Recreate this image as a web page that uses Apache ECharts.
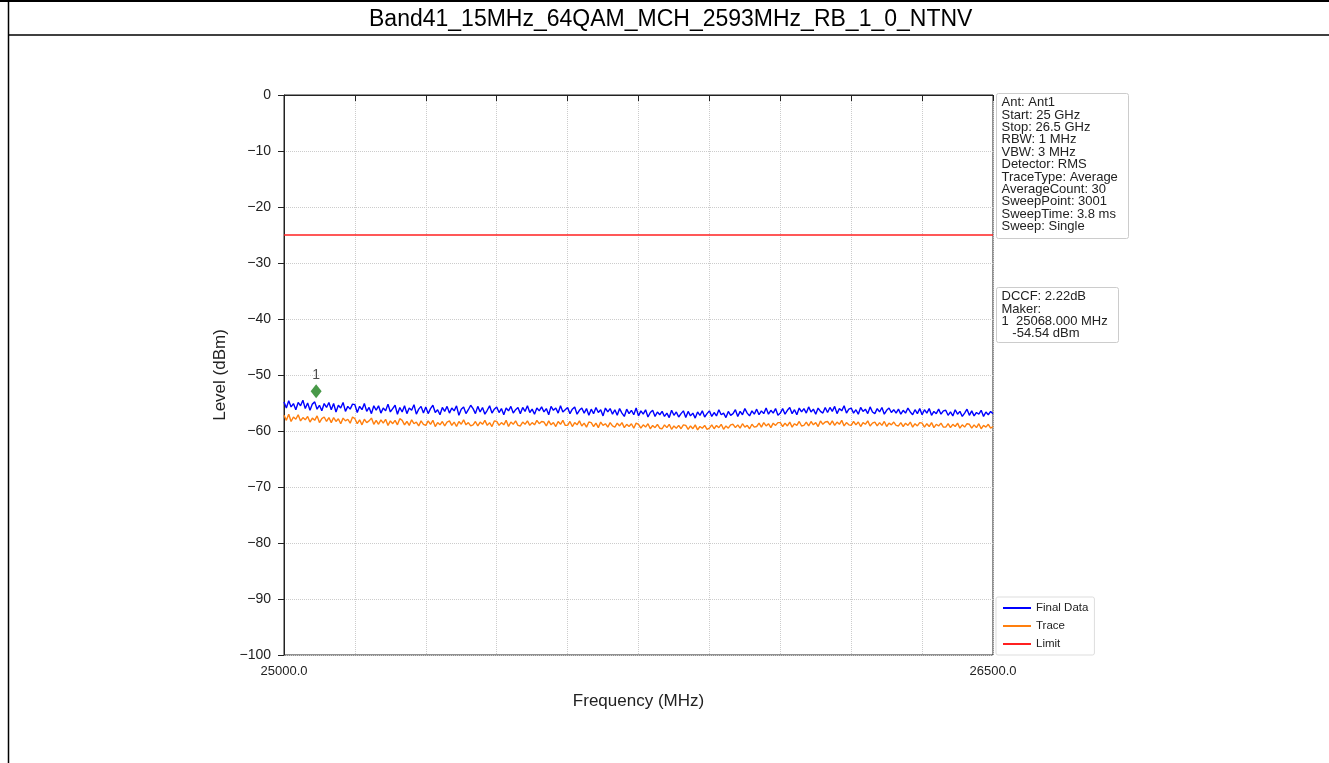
<!DOCTYPE html>
<html>
<head>
<meta charset="utf-8">
<script src="https://cdn.jsdelivr.net/npm/echarts@6/dist/echarts.min.js"></script>
<style>
  html, body { margin: 0; padding: 0; background: #fff; }
  #chart { width: 1329px; height: 763px; }
</style>
</head>
<body>
<div id="chart"></div>
<script>
// sweep: 25000 .. 26500 MHz, one point every 5 MHz
const freqStart = 25000;
const freqStep = 5;

// Final Data (dBm)
const finalData = [
  -54.8, -55.9, -54.6, -55.7, -55.1, -56.2, -54.9, -55.5, -54.5, -56.0,
  -55.0, -56.3, -55.2, -54.8, -56.1, -55.4, -56.4, -55.1, -55.8, -54.9,
  -56.2, -55.1, -56.6, -55.4, -55.9, -54.9, -56.5, -55.6, -56.1, -55.2,
  -55.3, -56.7, -55.6, -56.2, -55.1, -56.5, -55.8, -56.9, -55.5, -56.3,
  -55.5, -56.8, -55.9, -56.4, -55.2, -56.6, -56.0, -55.4, -57.0, -55.8,
  -56.6, -55.5, -56.9, -55.9, -56.3, -55.3, -57.0, -56.1, -55.6, -56.8,
  -55.7, -56.9, -56.0, -55.4, -56.7, -56.2, -57.1, -55.8, -56.5, -55.6,
  -56.8, -55.9, -56.4, -55.5, -57.2, -56.1, -55.7, -56.9, -56.2, -55.4,
  -56.0, -56.9, -55.6, -56.6, -55.8, -57.0, -56.3, -55.5, -56.8, -56.1,
  -55.7, -56.7, -56.0, -57.1, -55.9, -56.4, -55.6, -56.8, -56.2, -55.8,
  -56.9, -55.8, -56.5, -55.5, -56.7, -56.1, -57.0, -55.9, -56.4, -55.7,
  -56.6, -56.0, -57.1, -55.6, -56.3, -55.9, -56.8, -55.5, -56.6, -56.2,
  -55.8, -56.9, -56.1, -55.7, -57.0, -56.3, -55.9, -56.8, -56.0, -57.2,
  -56.1, -56.9, -55.8, -56.7, -56.2, -57.3, -55.9, -56.6, -56.0, -57.0,
  -56.2, -57.2, -56.0, -56.8, -57.4, -56.1, -56.9, -56.3, -57.1, -55.9,
  -57.3, -56.4, -57.0, -56.2, -57.5, -56.7, -56.3, -57.4, -56.6, -57.1,
  -56.5, -57.4, -56.8, -57.6, -56.3, -57.2, -56.6, -57.5, -56.9, -56.4,
  -57.6, -56.5, -57.3, -56.8, -57.7, -56.6, -57.2, -56.4, -57.5, -56.9,
  -56.4, -57.4, -56.7, -57.3, -56.2, -57.1, -56.8, -57.6, -56.5, -57.2,
  -56.9, -56.2, -57.4, -56.5, -57.1, -56.0, -56.8, -57.3, -56.4, -57.0,
  -56.1, -57.1, -56.4, -56.9, -55.9, -57.0, -56.3, -56.8, -56.0, -57.2,
  -56.8, -56.0, -57.0, -56.3, -55.8, -56.9, -56.2, -57.1, -55.9, -56.6,
  -56.0, -56.8, -55.7, -56.6, -56.1, -57.0, -55.9, -56.5, -56.8, -55.8,
  -56.7, -55.8, -56.5, -55.6, -56.9, -56.0, -56.4, -55.5, -56.8, -56.1,
  -55.9, -56.8, -56.2, -57.0, -55.8, -56.5, -56.1, -56.9, -55.7, -56.6,
  -56.9, -56.0, -56.6, -55.8, -57.0, -56.3, -55.9, -56.7, -56.2, -56.8,
  -56.1, -57.0, -56.3, -56.8, -55.9, -56.6, -57.1, -56.2, -56.9, -56.0,
  -57.1, -56.2, -56.8, -56.0, -57.2, -56.5, -56.9, -56.1, -57.0, -56.4,
  -56.3, -57.2, -56.6, -57.3, -56.2, -57.0, -56.5, -57.4, -56.8, -56.1,
  -57.2, -56.4, -57.3, -56.7, -57.0, -56.3, -57.4, -56.6, -57.1, -56.5,
  -56.9
];

// Trace (dBm)
const traceData = [
  -57.2, -58.1, -57.0, -58.3, -57.5, -57.9, -57.1, -58.2, -57.6, -58.0,
  -57.4, -58.4, -57.7, -58.1, -57.3, -58.5, -57.8, -57.5, -58.3, -57.6,
  -58.5, -57.6, -58.3, -57.8, -58.7, -57.7, -58.2, -57.9, -58.6, -57.5,
  -57.8, -58.7, -58.0, -58.9, -57.9, -58.5, -58.2, -57.7, -58.8, -58.1,
  -58.8, -58.0, -58.6, -57.9, -59.0, -58.2, -58.7, -58.1, -58.9, -57.8,
  -58.1, -58.9, -58.3, -59.0, -58.0, -58.7, -58.4, -59.1, -58.2, -58.8,
  -59.0, -58.2, -58.8, -58.1, -59.2, -58.5, -58.9, -58.3, -59.1, -58.4,
  -58.2, -59.0, -58.4, -59.2, -58.3, -58.8, -58.0, -58.9, -58.5, -59.1,
  -58.9, -58.3, -59.1, -58.4, -58.8, -58.1, -59.0, -58.5, -59.2, -58.2,
  -58.3, -59.0, -58.5, -58.9, -58.1, -59.2, -58.4, -58.8, -58.2, -59.0,
  -59.1, -58.4, -58.8, -58.2, -59.0, -58.5, -58.9, -58.1, -58.7, -58.3,
  -58.4, -59.1, -58.2, -58.9, -58.5, -59.2, -58.3, -58.8, -58.1, -59.0,
  -59.0, -58.3, -59.2, -58.5, -58.9, -58.2, -59.1, -58.6, -59.3, -58.4,
  -58.5, -59.2, -58.6, -59.4, -58.4, -59.0, -58.7, -59.3, -58.5, -59.1,
  -59.3, -58.6, -59.1, -58.5, -59.4, -58.8, -59.2, -58.7, -59.5, -58.6,
  -58.8, -59.5, -58.9, -59.3, -58.7, -59.6, -59.0, -59.4, -58.8, -59.5,
  -59.6, -58.9, -59.4, -58.8, -59.7, -59.1, -59.5, -59.0, -59.6, -58.9,
  -59.0, -59.7, -59.1, -59.6, -58.9, -59.8, -59.2, -59.5, -59.0, -59.7,
  -59.5, -58.9, -59.6, -59.0, -59.4, -58.8, -59.7, -59.1, -59.5, -58.9,
  -58.8, -59.4, -58.9, -59.5, -58.7, -59.3, -59.0, -59.6, -58.8, -59.3,
  -59.2, -58.6, -59.3, -58.5, -59.1, -58.7, -59.4, -58.6, -59.0, -58.5,
  -58.5, -59.2, -58.6, -59.1, -58.4, -59.3, -58.7, -59.0, -58.3, -59.1,
  -59.0, -58.4, -59.1, -58.3, -58.9, -58.5, -59.2, -58.2, -58.8, -58.4,
  -58.3, -58.9, -58.2, -59.0, -58.4, -58.8, -58.1, -59.1, -58.5, -58.9,
  -59.0, -58.3, -58.9, -58.4, -59.2, -58.5, -58.8, -58.2, -59.1, -58.6,
  -58.4, -59.1, -58.5, -59.0, -58.3, -59.2, -58.6, -58.9, -58.4, -59.0,
  -59.1, -58.5, -59.2, -58.6, -59.0, -58.4, -59.3, -58.7, -59.1, -58.5,
  -58.6, -59.3, -58.7, -59.2, -58.5, -59.4, -58.8, -59.1, -58.6, -59.3,
  -59.3, -58.7, -59.4, -58.8, -59.2, -58.6, -59.5, -58.9, -59.3, -58.7,
  -58.8, -59.5, -58.9, -59.4, -58.7, -59.6, -59.0, -59.3, -58.8, -59.5,
  -59.2
];

const limitFreq = [25000, 26500];
const limitLevel = [-25, -25];

// marker 1
const markerFreq = 25068;
const markerLevel = -52.9;

const infoLines = [
  'Ant: Ant1', 'Start: 25 GHz', 'Stop: 26.5 GHz', 'RBW: 1 MHz', 'VBW: 3 MHz',
  'Detector: RMS', 'TraceType: Average', 'AverageCount: 30', 'SweepPoint: 3001',
  'SweepTime: 3.8 ms', 'Sweep: Single'
];
const markerLines = ['DCCF: 2.22dB', 'Maker:', '1  25068.000 MHz', '   -54.54 dBm'];

const pair = (arr) => arr.map((v, i) => [freqStart + i * freqStep, v]);

const chart = echarts.init(document.getElementById('chart'));
const font = 'Liberation Sans, Arial, sans-serif';

chart.setOption({
  animation: false,
  backgroundColor: '#fff',
  title: {
    text: 'Band41_15MHz_64QAM_MCH_2593MHz_RB_1_0_NTNV',
    left: 364,
    top: 3,
    textStyle: { fontFamily: font, fontSize: 23, fontWeight: 'normal', color: '#000' },
  },
  grid: {
    left: 284, right: 336, top: 95, bottom: 108,
    show: true, borderColor: '#222', borderWidth: 1,
  },
  legend: {
    orient: 'vertical',
    left: 996, top: 597,
    itemWidth: 28, itemHeight: 2, itemGap: 6,
    padding: [5, 6, 5, 6],
    backgroundColor: '#fff',
    borderColor: '#ddd', borderWidth: 1, borderRadius: 2,
    textStyle: { fontFamily: font, fontSize: 11.5, color: '#222' },
    data: ['Final Data', 'Trace', 'Limit'],
  },
  xAxis: {
    type: 'value',
    min: 25000, max: 26500, interval: 150,
    name: 'Frequency (MHz)', nameLocation: 'middle', nameGap: 38,
    nameTextStyle: { fontFamily: font, fontSize: 17, color: '#222' },
    axisLine: { lineStyle: { color: '#222' } },
    axisTick: { show: true, length: 6, lineStyle: { color: '#222' } },
    axisLabel: {
      fontFamily: font, fontSize: 13, color: '#222', margin: 10,
      formatter: (v) => (v === 25000 || v === 26500 ? v.toFixed(1) : ''),
    },
    splitLine: { show: true, lineStyle: { color: '#ccc', type: 'dotted' } },
  },
  yAxis: {
    type: 'value',
    min: -100, max: 0, interval: 10,
    name: 'Level (dBm)', nameLocation: 'middle', nameGap: 52, nameRotate: 90,
    nameTextStyle: { fontFamily: font, fontSize: 17, color: '#222' },
    axisLine: { show: true, lineStyle: { color: '#222' } },
    axisTick: { show: true, length: 6, lineStyle: { color: '#222' } },
    axisLabel: {
      fontFamily: font, fontSize: 14, color: '#222', margin: 13,
      formatter: (v) => String(v).replace('-', '\u2212'),
    },
    splitLine: { show: true, lineStyle: { color: '#ccc', type: 'dotted' } },
  },
  series: [
    {
      name: 'Final Data', type: 'line', symbol: 'none',
      lineStyle: { color: '#0000ff', width: 1.4 }, itemStyle: { color: '#0000ff' },
      data: pair(finalData), z: 3,
    },
    {
      name: 'Trace', type: 'line', symbol: 'none',
      lineStyle: { color: '#ff7f0e', width: 1.4 }, itemStyle: { color: '#ff7f0e' },
      data: pair(traceData), z: 2,
    },
    {
      name: 'Limit', type: 'line', symbol: 'none',
      lineStyle: { color: '#ff2020', width: 1.5 }, itemStyle: { color: '#ff2020' },
      data: limitFreq.map((f, i) => [f, limitLevel[i]]), z: 4,
    },
    {
      name: 'Marker', type: 'scatter', symbol: 'diamond', symbolSize: [11, 14],
      itemStyle: { color: '#1a7f1a' },
      label: { show: true, position: 'top', distance: 2, formatter: '1',
        fontFamily: font, fontSize: 14, color: '#222' },
      data: [[markerFreq, markerLevel]], z: 5,
    },
  ],
  graphic: [
    // page frame
    { type: 'line', shape: { x1: 0, y1: 1, x2: 1329, y2: 1 }, style: { stroke: '#000', lineWidth: 2 } },
    { type: 'line', shape: { x1: 8.5, y1: 0, x2: 8.5, y2: 763 }, style: { stroke: '#000', lineWidth: 1.5 } },
    { type: 'line', shape: { x1: 8, y1: 35, x2: 1329, y2: 35 }, style: { stroke: '#000', lineWidth: 1.5 } },
    // info box
    {
      type: 'group', left: 996, top: 93,
      children: [
        { type: 'rect', shape: { x: 0, y: 0, width: 132, height: 145, r: 2 },
          style: { fill: '#fff', stroke: '#ccc', lineWidth: 1 } },
        { type: 'text', x: 5, y: 3,
          style: { text: infoLines.join('\n'), font: '13px ' + font, lineHeight: 12.4, fill: '#222' } },
      ],
    },
    {
      type: 'group', left: 996, top: 287,
      children: [
        { type: 'rect', shape: { x: 0, y: 0, width: 122, height: 55, r: 2 },
          style: { fill: '#fff', stroke: '#ccc', lineWidth: 1 } },
        { type: 'text', x: 5, y: 3,
          style: { text: markerLines.join('\n'), font: '13px ' + font, lineHeight: 12.4, fill: '#222' } },
      ],
    },
  ],
});
</script>
</body>
</html>
